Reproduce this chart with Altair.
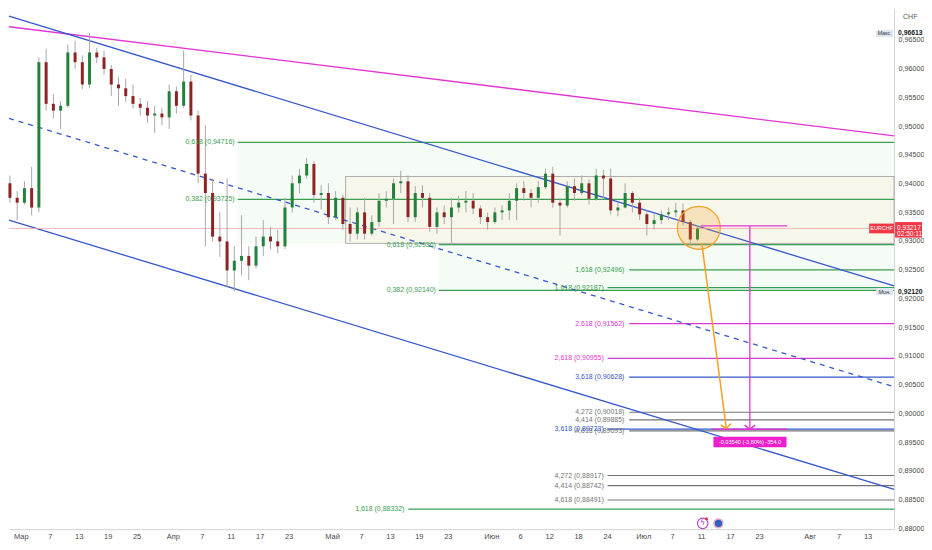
import json
import altair as alt
import pandas as pd

# ---------------- data (EURCHF, daily candles) -------------
# trading-day index: 0 = 3 Mar 2025 (weekends removed, as on the chart axis)
day = list(range(-2, 94))
open_ = [0.94004, 0.93751, 0.93666, 0.93919, 0.93582, 0.96112, 0.95387, 0.95269, 0.95353, 0.96281,
         0.96112, 0.95724, 0.96281, 0.96196, 0.95994, 0.95724, 0.95657, 0.95522, 0.95387, 0.95319,
         0.95184, 0.95218, 0.95151, 0.95606, 0.95353, 0.95775, 0.95184, 0.94172, 0.93835, 0.93076,
         0.92992, 0.92486, 0.92655, 0.92739, 0.92570, 0.92907, 0.93076, 0.92992, 0.92907, 0.93582,
         0.94004, 0.94139, 0.94341, 0.93801, 0.93835, 0.93414, 0.93751, 0.93295, 0.93127, 0.93498,
         0.93127, 0.93329, 0.93700, 0.93734, 0.94004, 0.94038, 0.93414, 0.93835, 0.93751, 0.93245,
         0.93498, 0.93414, 0.93582, 0.93666, 0.93700, 0.93565, 0.93414, 0.93329, 0.93498, 0.93532,
         0.93700, 0.93919, 0.93835, 0.93751, 0.93936, 0.94172, 0.93666, 0.93616, 0.93953, 0.93835,
         0.94004, 0.93734, 0.94139, 0.94088, 0.93532, 0.93582, 0.93835, 0.93666, 0.93464, 0.93295,
         0.93363, 0.93464, 0.93498, 0.93532, 0.93329, 0.93026]
high = [0.94139, 0.93869, 0.94038, 0.94291, 0.96196, 0.96348, 0.95555, 0.95437, 0.96416, 0.96483,
        0.96230, 0.96613, 0.96365, 0.96314, 0.96061, 0.95859, 0.95825, 0.95724, 0.95488, 0.95437,
        0.95353, 0.95319, 0.95724, 0.95690, 0.96314, 0.95893, 0.95269, 0.95016, 0.94088, 0.93498,
        0.94088, 0.92907, 0.93447, 0.92907, 0.93076, 0.93363, 0.93245, 0.93194, 0.93751, 0.94139,
        0.94257, 0.94442, 0.94392, 0.93970, 0.94004, 0.93869, 0.93801, 0.93582, 0.93582, 0.93751,
        0.93447, 0.93835, 0.93869, 0.94088, 0.94223, 0.94139, 0.93953, 0.93970, 0.93835, 0.93582,
        0.93616, 0.93751, 0.93785, 0.93869, 0.93835, 0.93616, 0.93498, 0.93582, 0.93616, 0.93835,
        0.94004, 0.94038, 0.93903, 0.94038, 0.94257, 0.94291, 0.93751, 0.94038, 0.94088, 0.94139,
        0.94071, 0.94257, 0.94240, 0.94257, 0.93666, 0.94004, 0.93869, 0.93751, 0.93532, 0.93464,
        0.93532, 0.93582, 0.93666, 0.93650, 0.93363, 0.93262]
low = [0.93666, 0.93363, 0.93633, 0.93447, 0.93498, 0.95269, 0.95134, 0.94948, 0.95319, 0.95994,
       0.95640, 0.95657, 0.96095, 0.95893, 0.95522, 0.95353, 0.95421, 0.95302, 0.95184, 0.95050,
       0.94881, 0.95016, 0.94948, 0.95218, 0.95319, 0.95100, 0.94004, 0.92907, 0.92992, 0.92722,
       0.92199, 0.92120, 0.92402, 0.92317, 0.92520, 0.92739, 0.92857, 0.92789, 0.92857, 0.93498,
       0.93835, 0.94088, 0.93666, 0.93548, 0.93295, 0.93363, 0.93194, 0.92992, 0.93026, 0.93026,
       0.93093, 0.93245, 0.93582, 0.93295, 0.93835, 0.93329, 0.93329, 0.93582, 0.93161, 0.93127,
       0.93295, 0.92941, 0.93498, 0.93498, 0.93464, 0.93295, 0.93194, 0.93295, 0.93363, 0.93363,
       0.93363, 0.93700, 0.93582, 0.93666, 0.93903, 0.93582, 0.93093, 0.93582, 0.93700, 0.93801,
       0.93633, 0.93700, 0.93751, 0.93464, 0.93430, 0.93565, 0.93498, 0.93363, 0.93093, 0.93194,
       0.93295, 0.93363, 0.93414, 0.93262, 0.92924, 0.92992]
close = [0.93751, 0.93666, 0.93919, 0.93582, 0.96112, 0.95387, 0.95269, 0.95353, 0.96281, 0.96112,
         0.95724, 0.96281, 0.96196, 0.95994, 0.95724, 0.95657, 0.95522, 0.95387, 0.95319, 0.95184,
         0.95218, 0.95151, 0.95606, 0.95353, 0.95775, 0.95184, 0.94172, 0.93835, 0.93076, 0.92992,
         0.92486, 0.92655, 0.92739, 0.92570, 0.92907, 0.93076, 0.92992, 0.92907, 0.93582, 0.94004,
         0.94139, 0.94341, 0.93801, 0.93835, 0.93414, 0.93751, 0.93295, 0.93127, 0.93498, 0.93127,
         0.93329, 0.93700, 0.93734, 0.94004, 0.94038, 0.93414, 0.93835, 0.93751, 0.93245, 0.93498,
         0.93414, 0.93582, 0.93666, 0.93700, 0.93565, 0.93414, 0.93329, 0.93498, 0.93532, 0.93700,
         0.93919, 0.93835, 0.93751, 0.93936, 0.94172, 0.93666, 0.93616, 0.93953, 0.93835, 0.94004,
         0.93734, 0.94139, 0.94088, 0.93532, 0.93582, 0.93835, 0.93666, 0.93464, 0.93295, 0.93363,
         0.93464, 0.93498, 0.93532, 0.93329, 0.93026, 0.93217]

last_price = 0.93217
max_price = 0.96613
min_price = 0.92120

# x axis ticks (trading-day index) and labels
xtick_day = [0, 4, 8, 12, 16, 21, 25, 29, 33, 37, 43, 47, 51, 55, 59,
             65, 69, 73, 77, 81, 86, 90, 94, 98, 102, 109, 113, 117]
xtick_lbl = ["Мар", "7", "13", "19", "25", "Апр", "7", "11", "17", "23", "Май", "7", "13", "19", "23",
             "Июн", "6", "12", "18", "24", "Июл", "7", "11", "17", "23", "Авг", "7", "13"]
# y axis ticks
ytick = [0.880, 0.885, 0.890, 0.895, 0.900, 0.905, 0.910, 0.915, 0.920, 0.925,
         0.930, 0.935, 0.940, 0.945, 0.950, 0.955, 0.960, 0.965]

# Fibonacci levels: value, label, anchor day of line start, anchor day of label end, kind
fib_val = [0.94716, 0.93725, 0.92936, 0.92140, 0.92496, 0.91562, 0.90628, 0.90018, 0.89885, 0.89693,
           0.92187, 0.90955, 0.89723, 0.88917, 0.88742, 0.88491, 0.88332]
fib_txt = ["0,618 (0,94716)", "0,382 (0,93725)", "0,618 (0,92936)", "0,382 (0,92140)",
           "1,618 (0,92496)", "2,618 (0,91562)", "3,618 (0,90628)", "4,272 (0,90018)",
           "4,414 (0,89885)", "4,618 (0,89693)", "1,618 (0,92187)", "2,618 (0,90955)",
           "3,618 (0,89723)", "4,272 (0,88917)", "4,414 (0,88742)", "4,618 (0,88491)",
           "1,618 (0,88332)"]
fib_from = [29.96, 29.96, 57.75, 57.75, 84.06, 84.06, 84.06, 84.06, 84.06, 84.06,
            81.07, 81.07, 81.07, 81.07, 81.07, 81.07, 53.55]
fib_lbl_end = [29.55, 29.55, 57.35, 57.35, 83.4, 83.4, 83.4, 83.4, 83.4, 83.4,
               80.55, 80.55, 80.55, 80.55, 80.55, 80.55, 53.0]
fib_kind = ["g", "g", "g", "g", "g", "m", "b", "k", "k", "k", "g", "m", "b", "k", "k", "k", "g"]

# trend lines (day, price) -> (day, price)
trend_x0 = [-1.63, -1.63, -1.63, -1.63]
trend_y0 = [0.96729, 0.96913, 0.95134, 0.93363]
trend_x1 = [120.66, 120.66, 120.66, 120.66]
trend_y1 = [0.94830, 0.92216, 0.90462, 0.88674]
trend_kind = ["magenta", "channel", "mid", "channel"]

# shaded zones and the range box
zone_x0 = [29.96, 57.75]
zone_lo = [0.92958, 0.92140]
zone_hi = [0.94716, 0.92936]
box_x0, box_lo, box_hi = 44.88, 0.92958, 0.94122

# projection drawing
measure_top, measure_bottom = 0.93262, 0.89722
measure_day, measure_day0, measure_day1, measure_day0b = 100.73, 93.95, 105.9, 95.58
arrow_from = (94.09, 0.92958)
arrow_to = (97.48, 0.89737)
circle_at = (93.68, 0.93228)
measure_text = "-0,03540 (-3,80%) -354,0"

XMIN, XMAX = -1.63, 120.66
YMIN, YMAX = 0.87983, 0.97040

# ---------------- styles ----------------
W, H = 888, 522
FONT = "Liberation Sans"
GREEN, MAGENTA, BLUE, GREY = "#3a9e52", "#e234d2", "#3558cc", "#757575"
ORANGE = "#f5a020"
UP, DOWN, WICK = "#23803a", "#8e2323", "#a8a8a8"
kind_color = {"g": GREEN, "m": MAGENTA, "b": BLUE, "k": GREY}

XS = alt.Scale(domain=[XMIN, XMAX], nice=False, zero=False)
YS = alt.Scale(domain=[YMIN, YMAX], nice=False, zero=False)
lbl_expr = (json.dumps(xtick_lbl, ensure_ascii=False) + "[indexof(" + json.dumps(xtick_day)
            + ", datum.value)]")
AX = alt.Axis(values=xtick_day, labelExpr=lbl_expr, title=None, ticks=False, grid=False,
              domainColor="#d3d3d3", labelColor="#4a4a4a", labelFontSize=7.5, labelFont=FONT,
              labelPadding=3, labelOverlap=False, labelFlush=False)
AY = alt.Axis(orient="right", values=ytick, title=None, ticks=False, grid=False,
              labelExpr="replace(format(datum.value, '.5f'), '.', ',')",
              domainColor="#d3d3d3", labelColor="#4a4a4a", labelFontSize=7.2, labelFont=FONT,
              labelPadding=4, labelOverlap=False, labelFlush=False)


def X(f):
    return alt.X(f, type="quantitative", scale=XS, axis=AX)


def Y(f):
    return alt.Y(f, type="quantitative", scale=YS, axis=AY)


# ---------------- frames ----------------
cdf = pd.DataFrame({"day": day, "open": open_, "high": high, "low": low, "close": close})
cdf["t"] = cdf["day"] + 0.5
cdf["col"] = [UP if c >= o else DOWN for o, c in zip(cdf["open"], cdf["close"])]

fdf = pd.DataFrame({"v": fib_val, "txt": fib_txt, "x0": fib_from, "xl": fib_lbl_end,
                    "col": [kind_color[k] for k in fib_kind]})
fdf["x1"] = XMAX

tdf = pd.DataFrame({"x0": trend_x0, "y0": trend_y0, "x1": trend_x1, "y1": trend_y1,
                    "kind": trend_kind})
tdf["col"] = [MAGENTA if k == "magenta" else BLUE for k in trend_kind]

zdf = pd.DataFrame({"x0": zone_x0, "lo": zone_lo, "hi": zone_hi})
zdf["x1"] = XMAX
bdf = pd.DataFrame({"x0": [box_x0], "x1": [XMAX], "lo": [box_lo], "hi": [box_hi]})

layers = []

layers.append(alt.Chart(zdf).mark_rect(color="#4caf50", opacity=0.055).encode(
    x=X("x0"), x2="x1", y=Y("lo"), y2="hi"))
layers.append(alt.Chart(bdf).mark_rect(fill="#ffd59a", fillOpacity=0.12, stroke="#9a9a9a",
                                       strokeWidth=0.8).encode(
    x=X("x0"), x2="x1", y=Y("lo"), y2="hi"))

layers.append(alt.Chart(fdf).mark_rule(strokeWidth=1.2).encode(
    x=X("x0"), x2="x1", y=Y("v"), color=alt.Color("col:N", scale=None)))

layers.append(alt.Chart(tdf[tdf.kind != "mid"]).mark_rule(strokeWidth=1.3).encode(
    x=X("x0"), x2="x1", y=Y("y0"), y2="y1", color=alt.Color("col:N", scale=None)))
layers.append(alt.Chart(tdf[tdf.kind == "mid"]).mark_rule(strokeWidth=1.3, strokeDash=[5, 5]).encode(
    x=X("x0"), x2="x1", y=Y("y0"), y2="y1", color=alt.Color("col:N", scale=None)))

pdf = pd.DataFrame({"x0": [XMIN], "x1": [XMAX], "v": [last_price]})
layers.append(alt.Chart(pdf).mark_rule(color="#f4a8a8", strokeWidth=0.8).encode(
    x=X("x0"), x2="x1", y=Y("v")))

layers.append(alt.Chart(cdf).mark_rule(color=WICK, strokeWidth=1).encode(
    x=X("t"), y=Y("low"), y2="high"))
layers.append(alt.Chart(cdf).mark_rule(strokeWidth=3).encode(
    x=X("t"), y=Y("open"), y2="close", color=alt.Color("col:N", scale=None)))

layers.append(alt.Chart(fdf).mark_text(align="right", baseline="middle", fontSize=7,
                                       font=FONT).encode(
    x=X("xl"), y=Y("v"), text="txt:N", color=alt.Color("col:N", scale=None)))

# orange circle
cidf = pd.DataFrame({"x": [circle_at[0]], "y": [circle_at[1]]})
layers.append(alt.Chart(cidf).mark_point(shape="circle", size=1850, filled=True, fill=ORANGE,
                                         fillOpacity=0.22, stroke=ORANGE, strokeWidth=1.2,
                                         opacity=1).encode(x=X("x"), y=Y("y")))

# measure lines (magenta) and orange arrow
mdf = pd.DataFrame({
    "x0": [measure_day0, measure_day, measure_day0b],
    "x1": [measure_day1, measure_day, measure_day1],
    "y0": [measure_top, measure_top, measure_bottom],
    "y1": [measure_top, measure_bottom, measure_bottom]})
layers.append(alt.Chart(mdf).mark_rule(color=MAGENTA, strokeWidth=1.3).encode(
    x=X("x0"), x2="x1", y=Y("y0"), y2="y1"))
adf = pd.DataFrame({"x0": [arrow_from[0]], "y0": [arrow_from[1]],
                    "x1": [arrow_to[0]], "y1": [arrow_to[1]]})
layers.append(alt.Chart(adf).mark_rule(color=ORANGE, strokeWidth=1.5).encode(
    x=X("x0"), x2="x1", y=Y("y0"), y2="y1"))
chev = "M -1 -0.8 L 0 0 L 1 -0.8"
layers.append(alt.Chart(pd.DataFrame({"x": [arrow_to[0]], "y": [arrow_to[1]]})).mark_point(
    shape=chev, size=110, filled=False, color=ORANGE, strokeWidth=1.5, angle=352.5, opacity=1
).encode(x=X("x"), y=Y("y")))
layers.append(alt.Chart(pd.DataFrame({"x": [measure_day], "y": [measure_bottom]})).mark_point(
    shape=chev, size=110, filled=False, color=MAGENTA, strokeWidth=1.5, opacity=1
).encode(x=X("x"), y=Y("y")))

# measure label box
mbdf = pd.DataFrame({"x0": [95.7], "x1": [105.8], "lo": [0.89410], "hi": [0.89590],
                     "xc": [100.75], "yc": [0.89500], "txt": [measure_text]})
layers.append(alt.Chart(mbdf).mark_rect(color="#ee1ecb", cornerRadius=1).encode(
    x=X("x0"), x2="x1", y=Y("lo"), y2="hi"))
layers.append(alt.Chart(mbdf).mark_text(color="white", fontSize=5.6, font=FONT,
                                        baseline="middle").encode(
    x=X("xc"), y=Y("yc"), text="txt:N"))

# small icons near the time axis
idf = pd.DataFrame({"x": [94.22], "y": [0.88084]})
layers.append(alt.Chart(idf).mark_point(shape="circle", size=110, filled=True, fill="white",
                                        stroke="#b53cc9", strokeWidth=1.2, opacity=1).encode(
    x=X("x"), y=Y("y")))
layers.append(alt.Chart(idf).mark_text(text="ϟ", fontSize=8, color="#b53cc9", font="DejaVu Sans",
                                       baseline="middle").encode(x=X("x"), y=Y("y")))
layers.append(alt.Chart(pd.DataFrame({"x": [94.75], "y": [0.88165]})).mark_point(
    shape="circle", size=10, filled=True, color="#f23645", opacity=1).encode(x=X("x"), y=Y("y")))
layers.append(alt.Chart(pd.DataFrame({"x": [96.39], "y": [0.88084]})).mark_point(
    shape="circle", size=80, filled=True, fill="#2f62c0", stroke="#f3a6c6", strokeWidth=1.5,
    opacity=1).encode(x=X("x"), y=Y("y")))

# right-axis tags
tag = pd.DataFrame({"lo": [last_price - 0.00085], "hi": [last_price + 0.00085],
                    "lo2": [last_price - 0.00158], "hi2": [last_price + 0.00112],
                    "v": [last_price], "v2": [last_price - 0.00090]})
layers.append(alt.Chart(tag).mark_rect(color="#f23645").encode(
    x=alt.value(W - 25), x2=alt.value(W), y=Y("lo"), y2="hi"))
layers.append(alt.Chart(tag).mark_text(text="EURCHF", color="white", fontSize=5.5, font=FONT,
                                       baseline="middle").encode(x=alt.value(W - 12.5), y=Y("v")))
layers.append(alt.Chart(tag).mark_rect(color="#f23645").encode(
    x=alt.value(W + 1), x2=alt.value(W + 28), y=Y("lo2"), y2="hi2"))
layers.append(alt.Chart(tag).mark_text(text="0,93217", color="white", fontSize=6.6, font=FONT,
                                       align="left", baseline="middle").encode(
    x=alt.value(W + 3), y=Y("v")))
layers.append(alt.Chart(tag).mark_text(text="02:50:11", color="white", fontSize=6.6, font=FONT,
                                       align="left", baseline="middle").encode(
    x=alt.value(W + 3), y=Y("v2")))

for val, name in [(max_price, "Макс."), (min_price, "Мин.")]:
    tdfm = pd.DataFrame({"v": [val], "lo": [val - 0.00062], "hi": [val + 0.00062],
                         "txt": [name], "num": [f"{val:.5f}".replace(".", ",")]})
    layers.append(alt.Chart(tdfm).mark_rect(color="#dfe7f2").encode(
        x=alt.value(W - 18), x2=alt.value(W - 1), y=Y("lo"), y2="hi"))
    layers.append(alt.Chart(tdfm).mark_text(color="#333", fontSize=5.5, font=FONT,
                                            fontStyle="italic", baseline="middle").encode(
        x=alt.value(W - 9.5), y=Y("v"), text="txt:N"))
    layers.append(alt.Chart(tdfm).mark_rect(color="white").encode(
        x=alt.value(W + 2), x2=alt.value(W + 28), y=Y("lo"), y2="hi"))
    layers.append(alt.Chart(tdfm).mark_text(color="#131722", fontSize=6.8, font=FONT,
                                            fontWeight="bold", align="left",
                                            baseline="middle").encode(
        x=alt.value(W + 4), y=Y("v"), text="num:N"))

layers.append(alt.Chart(pd.DataFrame({"a": [1]})).mark_text(
    text="CHF", color="#555", fontSize=7, font=FONT, align="left", baseline="middle").encode(
    x=alt.value(W + 9), y=alt.value(8)))

chart = alt.layer(*layers).properties(width=W, height=H, padding=0, background="white").configure_view(
    stroke=None)

chart.save("out.html", embed_options={"renderer": "svg", "actions": False})
